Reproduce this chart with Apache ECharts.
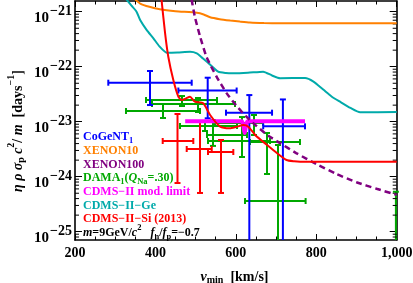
<!DOCTYPE html>
<html><head><meta charset="utf-8">
<script src="https://cdn.jsdelivr.net/npm/echarts@6/dist/echarts.min.js"></script>
<style>html,body{margin:0;padding:0;background:#fff}#c{width:413px;height:283px}</style>
</head><body><div id="c"></div>
<script>
// ---- axes ----
const xMin = 200, xMax = 1000, xStep = 200;
const yMin = 7.06e-26, yMax = 1.567e-21;

// ---- XENON10 (orange) ----
const xenon10V = [350,362,385,411,450,503,520,536,560,586,610,635,670,710,1000];
const xenon10Y = [1.66e-21,1.41e-21,1.23e-21,1.109e-21,1.023e-21,9.55e-22,8.91e-22,7.94e-22,7.33e-22,6.92e-22,6.61e-22,6.34e-22,6.21e-22,6.17e-22,6.17e-22];
// ---- CDMS-II-Ge (cyan) ----
const cdmsGeV = [325,340,353,362,378,395,410,428,455,486,503,515,528,556,575,594,630,668,690,710,772,793,818,838,859,885,909,1000];
const cdmsGeY = [1.78e-21,1.3e-21,1.0e-21,7.06e-22,4.68e-22,3.28e-22,2.34e-22,1.80e-22,1.82e-22,1.875e-22,1.754e-22,1.479e-22,1.233e-22,8.11e-23,7.67e-23,7.59e-23,7.76e-23,8.13e-23,6.92e-23,6.17e-23,6.24e-23,5.37e-23,3.80e-23,2.88e-23,2.31e-23,1.78e-23,1.479e-23,1.496e-23];
// ---- CDMS-II-Si limit (red) ----
const cdmsSiV = [414,424,432,444.5,457,465,475,486,498,519,536,561,585,600,619,631,648,677,702,726,745,760,1000];
const cdmsSiY = [2.0e-21,4.07e-22,1.52e-22,5.75e-23,2.85e-23,2.48e-23,2.63e-23,2.85e-23,2.31e-23,2.16e-23,1.324e-23,8.13e-24,7.59e-24,8.0e-24,8.71e-24,8.13e-24,5.75e-24,3.80e-24,2.69e-24,2.01e-24,1.905e-24,1.875e-24,1.875e-24];
// ---- XENON100 (purple dashed) ----
const xenon100V = [490,498,511,527,552,577,600,625,650,680,710,750,800,850,900,950,1000];
const xenon100Y = [1.66e-21,8.13e-22,3.55e-22,1.514e-22,6.61e-23,3.31e-23,2.0e-23,1.259e-23,8.51e-24,5.62e-24,4.07e-24,2.69e-24,1.70e-24,1.122e-24,7.94e-25,6.03e-25,4.68e-25];
// ---- CDMS-II modulation limit (magenta) ----
const cdmsModV = [474,614,622,630,772];
const cdmsModY = [1.016e-23,1.016e-23,6.2e-24,1.016e-23,1.016e-23];

// ---- CoGeNT points (blue) ----
const cogentV   = [386.5,530,633.5,717];
const cogentY   = [5.12e-23,3.69e-23,1.459e-23,8.24e-24];
const cogentVlo = [282.8,457,575.5,668];
const cogentVhi = [490.2,602,690,772];
const cogentYlo = [2.01e-23,1.153e-23,1e-27,1e-27];
const cogentYhi = [8.36e-23,6.31e-23,3.05e-23,2.54e-23];
// ---- DAMA points (green) ----
const damaV   = [418.8,466.1,505.9,523.3,543.2,645.1,615.3,677.5,704.8,998];
const damaY   = [1.567e-23,2.48e-23,2.10e-23,8.36e-24,5.73e-24,9.46e-24,4.46e-24,4.28e-24,3.61e-25,2e-26];
const damaVlo = [326.8,376.6,391.5,461.1,528.3,548.2,530.8,635.2,622.8,950];
const damaVhi = [510.8,553.1,597.9,602.9,627.7,667.6,684.9,759.5,773.5,1050];
const damaYlo = [1.167e-23,1.93e-23,1.50e-23,6.78e-24,3.63e-24,5.73e-24,2.28e-24,1.12e-24,1e-27,1e-27];
const damaYhi = [2.10e-23,2.93e-23,2.70e-23,1.03e-23,1.074e-23,1.324e-23,1.216e-23,6.24e-24,3.77e-24,5.33e-25];
// ---- CDMS-II-Si events (red) ----
const siPtV   = [454.9,510.9,563.1];
const siPtY   = [4.46e-24,3.19e-24,2.81e-24];
const siPtVlo = [418.1,477.8,530.8];
const siPtVhi = [494.2,540,593.7];
const siPtYlo = [7.67e-25,5.06e-25,5.06e-25];
const siPtYhi = [1.38e-23,9.89e-24,4.65e-24];

// ---- log minor tick positions ----
const yMinorTicks = [];
for (let e = -26; e <= -22; e++) for (let m = 2; m <= 9; m++) yMinorTicks.push(m * Math.pow(10, e));

const FONT = 'Liberation Serif';
const C = {blue:'#0000ff', orange:'#ff8000', purple:'#800080', green:'#00a800', magenta:'#ff00ff', cyan:'#00aaaa', red:'#ff0000'};

const pairs = (a, b) => a.map((v, i) => [v, b[i]]);
const bars = (v, y, vlo, vhi, ylo, yhi) => v.map((_, i) => [v[i], y[i], vlo[i], vhi[i], ylo[i], yhi[i]]);

function errorBars(color) {
  return function (params, api) {
    const cs = params.coordSys;
    const x0 = cs.x, x1 = cs.x + cs.width, y0 = cs.y, y1 = cs.y + cs.height;
    const c = api.coord([api.value(0), api.value(1)]);
    const l = api.coord([api.value(2), api.value(1)]);
    const r = api.coord([api.value(3), api.value(1)]);
    const b = api.coord([api.value(0), api.value(4)]);
    const t = api.coord([api.value(0), api.value(5)]);
    const cap = 3, style = {stroke: color, lineWidth: 2};
    const cl = (a, lo, hi) => Math.max(lo, Math.min(hi, a));
    const ch = [];
    const ln = (a, b2, c2, d) => ch.push({type: 'line', shape: {x1: a, y1: b2, x2: c2, y2: d}, style});
    if (c[1] >= y0 && c[1] <= y1) {
      const xa = cl(l[0], x0, x1), xb = cl(r[0], x0, x1);
      if (xb > xa) ln(xa, c[1], xb, c[1]);
      if (l[0] >= x0 && l[0] <= x1) ln(l[0], c[1] - cap, l[0], c[1] + cap);
      if (r[0] >= x0 && r[0] <= x1) ln(r[0], c[1] - cap, r[0], c[1] + cap);
    }
    if (c[0] >= x0 && c[0] <= x1) {
      const ya = cl(t[1], y0, y1), yb = cl(b[1], y0, y1);
      if (yb > ya) ln(c[0], ya, c[0], yb);
      if (t[1] >= y0 && t[1] <= y1) ln(c[0] - cap, t[1], c[0] + cap, t[1]);
      if (b[1] >= y0 && b[1] <= y1) ln(c[0] - cap, b[1], c[0] + cap, b[1]);
    }
    return {type: 'group', children: ch};
  };
}

function lineSeries(v, y, color, width, dashed) {
  return {type: 'line', data: pairs(v, y), showSymbol: false, symbol: 'none', smooth: 0.2, clip: true, silent: true,
    lineStyle: {color, width, type: dashed ? [6, 4] : 'solid'}};
}

const axisBase = {
  axisLine: {show: true, onZero: false, lineStyle: {color: '#000', width: 1.6}},
  axisTick: {show: true, inside: true, length: 6, lineStyle: {color: '#000', width: 1}},
  splitLine: {show: false}, minorSplitLine: {show: false}
};

function yLabel(val) {
  const v = Number(val);
  if (!(v > 0) || !isFinite(v)) return '';
  const e = Math.log10(v);
  if (!isFinite(e)) return '';
  const r = Math.round(e);
  if (Math.abs(e - r) > 0.01) return '';
  return '{b|10}{s|\u2212' + Math.abs(r) + '}';
}

const base = {fontFamily: FONT, fontWeight: 'bold', fontSize: 12, lineHeight: 12, padding: [4, 0, 0, 0], verticalAlign: 'top'};
const richLegend = {
  a: Object.assign({}, base),
  i: Object.assign({}, base, {fontStyle: 'italic'}),
  sub: Object.assign({}, base, {fontSize: 8.5, lineHeight: 9, padding: [9, 0, 0, 0]}),
  sup: Object.assign({}, base, {fontSize: 8.5, lineHeight: 9, padding: [0, 0, 0, 0]})
};
const legendItems = [
  ['{a|CoGeNT}{sub|1}', C.blue],
  ['{a|XENON10}', C.orange],
  ['{a|XENON100}', C.purple],
  ['{a|DAMA}{sub|1}{a|(}{i|Q}{sub|Na}{a|=.30)}', C.green],
  ['{a|CDMS\u2212II mod. limit}', C.magenta],
  ['{a|CDMS\u2212II\u2212Ge}', C.cyan],
  ['{a|CDMS\u2212II\u2212Si (2013)}', C.red],
  ['{i|m}{a|=9GeV/}{i|c}{sup|2}{a|   }{i|f}{sub|n}{a|/}{i|f}{sub|p}{a|=\u22120.7}', '#000']
];
const legendY0 = 133.3, legendDy = 13.67;

const big = {fontFamily: FONT, fontWeight: 'bold', fontSize: 14, lineHeight: 14, padding: [5, 0, 0, 0], verticalAlign: 'top', fill: '#000'};
const richTitle = {
  a: Object.assign({}, big),
  i: Object.assign({}, big, {fontStyle: 'italic'}),
  sub: Object.assign({}, big, {fontSize: 10, lineHeight: 10, padding: [10, 0, 0, 0]}),
  sup: Object.assign({}, big, {fontSize: 10, lineHeight: 10, padding: [0, 0, 0, 0]})
};

const chart = echarts.init(document.getElementById('c'), null, {renderer: 'canvas'});
chart.setOption({
  animation: false,
  backgroundColor: '#fff',
  grid: {left: 75, right: 16.3, top: 1, bottom: 43, containLabel: false, outerBoundsMode: 'none'},
  xAxis: [
    Object.assign({}, axisBase, {type: 'value', min: xMin, max: xMax, interval: xStep, position: 'bottom',
      minorTick: {show: true, splitNumber: 4, length: 3.5, lineStyle: {color: '#000', width: 1}},
      axisLabel: {margin: 6, color: '#000', fontFamily: FONT, fontWeight: 'bold', fontSize: 14}}),
    Object.assign({}, axisBase, {type: 'value', min: xMin, max: xMax, interval: xStep, position: 'top',
      minorTick: {show: true, splitNumber: 4, length: 3.5, lineStyle: {color: '#000', width: 1}},
      axisLabel: {show: false}})
  ],
  yAxis: [
    Object.assign({}, axisBase, {type: 'log', logBase: 10, min: yMin, max: yMax, position: 'left',
      axisTick: {show: true, inside: true, length: 7, lineStyle: {color: '#000', width: 1}},
      minorTick: {show: false},
      axisLabel: {margin: 3, hideOverlap: false, showMinLabel: true, showMaxLabel: true, formatter: yLabel, rich: {
        b: {fontFamily: FONT, fontWeight: 'bold', fontSize: 15, lineHeight: 15, padding: [6, 0, 0, 0], verticalAlign: 'top', color: '#000'},
        s: {fontFamily: FONT, fontWeight: 'bold', fontSize: 14, lineHeight: 14, padding: [0, 0, 0, 1], verticalAlign: 'top', color: '#000'}
      }}}),
    Object.assign({}, axisBase, {type: 'log', logBase: 10, min: yMin, max: yMax, position: 'right',
      axisTick: {show: true, inside: true, length: 7, lineStyle: {color: '#000', width: 1}},
      minorTick: {show: false}, axisLabel: {show: false}})
  ],
  series: [
    {type: 'custom', silent: true, renderItem: errorBars(C.green), data: bars(damaV, damaY, damaVlo, damaVhi, damaYlo, damaYhi), encode: {x: 0, y: 1}},
    {type: 'custom', silent: true, renderItem: errorBars(C.blue), data: bars(cogentV, cogentY, cogentVlo, cogentVhi, cogentYlo, cogentYhi), encode: {x: 0, y: 1}},
    lineSeries(cdmsModV, cdmsModY, C.magenta, 4, false),
    {type: 'custom', silent: true, renderItem: errorBars(C.red), data: bars(siPtV, siPtY, siPtVlo, siPtVhi, siPtYlo, siPtYhi), encode: {x: 0, y: 1}},
    lineSeries(xenon10V, xenon10Y, C.orange, 2, false),
    lineSeries(cdmsGeV, cdmsGeY, C.cyan, 2, false),
    lineSeries(xenon100V, xenon100Y, C.purple, 2.5, true),
    lineSeries(cdmsSiV, cdmsSiY, C.red, 2, false),
    {type: 'custom', silent: true, data: yMinorTicks.map(v => [xMin, v]), encode: {x: 0, y: 1},
      renderItem: function (params, api) {
        const cs = params.coordSys;
        const p = api.coord([xMin, api.value(1)]);
        if (p[1] < cs.y || p[1] > cs.y + cs.height) return;
        const st = {stroke: '#000', lineWidth: 1};
        return {type: 'group', children: [
          {type: 'line', shape: {x1: cs.x, y1: p[1], x2: cs.x + 4, y2: p[1]}, style: st},
          {type: 'line', shape: {x1: cs.x + cs.width - 4, y1: p[1], x2: cs.x + cs.width, y2: p[1]}, style: st}
        ]};
      }}
  ],
  graphic: [
    ...legendItems.map((it, k) => ({type: 'text', x: 83, y: legendY0 + k * legendDy, silent: true,
      style: {text: it[0], rich: JSON.parse(JSON.stringify(richLegend)), fill: it[1], verticalAlign: 'middle', align: 'left'}})),
    {type: 'text', x: 234.5, y: 272, silent: true,
      style: {text: '{i|v}{sub|min}{a|  [km/s]}', rich: richTitle, fill: '#000', align: 'center', verticalAlign: 'middle'}},
    {type: 'text', x: 13, y: 131, rotation: Math.PI / 2, silent: true,
      style: {text: '{i|\u03b7} {i|\u03c1} {i|\u03c3}{sub|p} {i|c}{sup|2}{a|/ }{i|m}{a|  [days}{sup|\u22121}{a|]}', rich: richTitle, fill: '#000', align: 'center', verticalAlign: 'middle'}}
  ]
});
</script></body></html>
